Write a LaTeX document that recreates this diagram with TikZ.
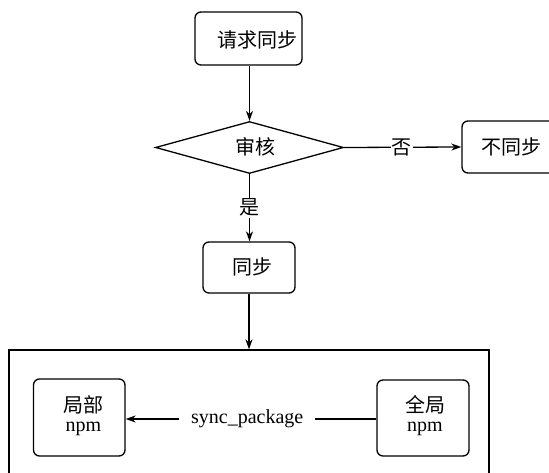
\documentclass[tikz,border=0pt]{standalone}
\usepackage{fontspec}
\setmainfont{Liberation Serif}
\newfontfamily\cjk{Noto Sans CJK SC}
\usetikzlibrary{shapes.geometric,arrows.meta}
\tikzset{
  box/.style={draw, rounded corners=6pt, inner sep=0pt, line width=1.3pt},
  frame/.style={draw, line width=1.3pt},
  txt/.style={font=\fontsize{20}{19}\selectfont, inner sep=0pt, align=center},
  conn/.style={line width=1.3pt, -{Stealth[length=10pt,width=7pt]}},
  lbl/.style={font=\fontsize{20}{20}\selectfont, fill=white, inner ysep=1pt},
}
\begin{document}
\begin{tikzpicture}[x=1pt,y=-1pt]
\useasboundingbox (0,0) rectangle (549,473);
% boxes
\node[box, minimum width=107pt, minimum height=53pt] (req) at (248.5,38.5) {};
\node[draw, diamond, line width=1.3pt, inner sep=0pt, aspect=3.6, minimum width=188pt, minimum height=52pt] (check) at (249.5,147.5) {};
\node[box, minimum width=103pt, minimum height=52pt] (no) at (513.5,147) {};
\node[box, minimum width=92pt, minimum height=51pt] (sync) at (249,267.5) {};
\node[frame, minimum width=480pt, minimum height=170pt, inner sep=0pt] (big) at (248.9,435) {};
\node[box, minimum width=91.5pt, minimum height=77pt] (local) at (79.25,417.5) {};
\node[box, minimum width=92pt, minimum height=76pt] (global) at (423,418) {};
% texts
\node[txt] (reqt) at (257,40) {\cjk 请求同步};
\node[txt] (checkt) at (255,147) {\cjk 审核};
\node[txt] (not) at (511.5,147) {\cjk 不同步};
\node[txt] (synct) at (252.5,267) {\cjk 同步};
\node[txt] (localt) at (83.5,415.5) {{\cjk 局部}\\npm};
\node[txt] (globalt) at (425,415.5) {{\cjk 全局}\\npm};
% connectors
\draw[conn] (req.south -| check.north) -- (check.north);
\draw[conn] (check.east) -- node[lbl, pos=0.49, inner xsep=1pt] {\cjk 否} (no.west);
\draw[conn] (check.south) -- node[lbl, pos=0.5, inner xsep=1pt] {\cjk 是} (check.south |- sync.north);
\draw[conn] (sync.south) -- (sync.south |- big.north);
\draw[conn] (global.west |- 0,419) -- node[lbl, pos=0.515, inner xsep=12pt] {sync\_package} (local.east |- 0,419);
\end{tikzpicture}
\end{document}
